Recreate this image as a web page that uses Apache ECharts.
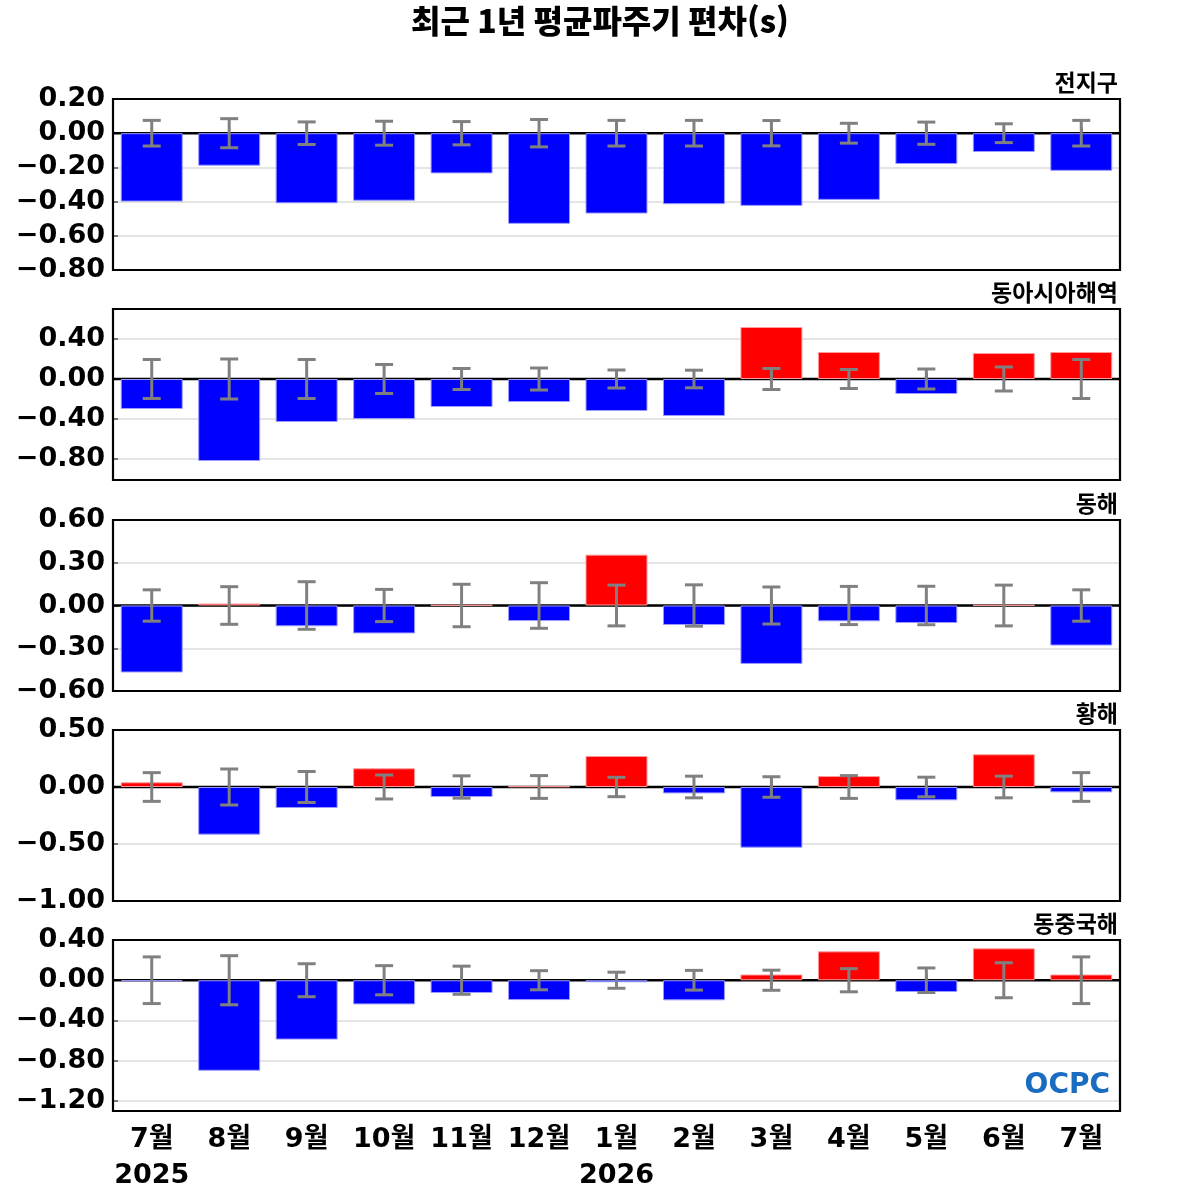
<!DOCTYPE html>
<html lang="ko">
<head>
<meta charset="UTF-8">
<title>최근 1년 평균파주기 편차(s)</title>
<script src="https://cdn.jsdelivr.net/npm/echarts@6/dist/echarts.min.js"></script>
<style>
  html, body { margin: 0; padding: 0; background: #fff; }
  #chart { width: 1200px; height: 1200px; }
</style>
</head>
<body>
<div id="chart"></div>
<script>
// 월 / 연도 라벨
var months = ['7월', '8월', '9월', '10월', '11월', '12월', '1월', '2월', '3월', '4월', '5월', '6월', '7월'];
var years = ['2025', '', '', '', '', '', '2026', '', '', '', '', '', ''];

// 해역별 편차 (s) 와 표준편차 (오차막대)
var globalAnom = [-0.40, -0.19, -0.41, -0.395, -0.235, -0.53, -0.47, -0.415, -0.425, -0.39, -0.18, -0.11, -0.22];
var globalStd = [0.075, 0.085, 0.066, 0.07, 0.068, 0.08, 0.075, 0.075, 0.074, 0.058, 0.065, 0.055, 0.075];

var eastAsiaAnom = [-0.30, -0.82, -0.43, -0.40, -0.28, -0.23, -0.32, -0.37, 0.52, 0.27, -0.15, 0.26, 0.27];
var eastAsiaStd = [0.195, 0.20, 0.195, 0.145, 0.105, 0.11, 0.09, 0.088, 0.105, 0.095, 0.10, 0.12, 0.195];

var eastSeaAnom = [-0.47, 0.014, -0.146, -0.196, 0.003, -0.109, 0.357, -0.137, -0.41, -0.111, -0.123, 0.003, -0.281];
var eastSeaStd = [0.11, 0.132, 0.167, 0.113, 0.149, 0.16, 0.143, 0.145, 0.13, 0.134, 0.135, 0.143, 0.11];

var yellowSeaAnom = [0.041, -0.418, -0.184, 0.164, -0.088, 0.006, 0.272, -0.056, -0.532, 0.096, -0.117, 0.287, -0.047];
var yellowSeaStd = [0.126, 0.158, 0.136, 0.105, 0.098, 0.10, 0.085, 0.095, 0.09, 0.10, 0.086, 0.095, 0.126];

var ecsAnom = [-0.01, -0.90, -0.59, -0.24, -0.127, -0.197, -0.02, -0.20, 0.057, 0.287, -0.117, 0.317, 0.057];
var ecsStd = [0.232, 0.244, 0.164, 0.145, 0.14, 0.095, 0.08, 0.098, 0.10, 0.115, 0.122, 0.174, 0.232];

// y축 눈금
var globalTicks = [-0.8, -0.6, -0.4, -0.2, 0, 0.2];
var eastAsiaTicks = [-0.8, -0.4, 0, 0.4];
var eastSeaTicks = [-0.6, -0.3, 0, 0.3, 0.6];
var yellowSeaTicks = [-1.0, -0.5, 0, 0.5];
var ecsTicks = [-1.2, -0.8, -0.4, 0, 0.4];

var panels = [
  { name: '전지구', anom: globalAnom, std: globalStd, ticks: globalTicks, min: -0.8, max: 0.2 },
  { name: '동아시아해역', anom: eastAsiaAnom, std: eastAsiaStd, ticks: eastAsiaTicks, min: -1.01, max: 0.70 },
  { name: '동해', anom: eastSeaAnom, std: eastSeaStd, ticks: eastSeaTicks, min: -0.6, max: 0.6 },
  { name: '황해', anom: yellowSeaAnom, std: yellowSeaStd, ticks: yellowSeaTicks, min: -1.0, max: 0.5 },
  { name: '동중국해', anom: ecsAnom, std: ecsStd, ticks: ecsTicks, min: -1.3, max: 0.4 }
];

var tops = [99, 309, 520, 730, 940];
var panelH = 171;
var FONT = "'DejaVu Sans', 'Noto Sans CJK KR', sans-serif";
var KFONT = "'Noto Sans CJK KR', sans-serif";

function fmt(v) {
  var s = Math.abs(v).toFixed(2);
  return (v < -1e-9 ? '\u2212' : '') + s;
}

var grids = [], xAxes = [], yAxes = [], series = [], titles = [];

titles.push({
  text: '최근 1년 평균파주기 편차(s)',
  left: 'center', top: 0,
  textStyle: { fontFamily: KFONT, fontSize: 32, fontWeight: 900, color: '#000' }
});

panels.forEach(function (p, k) {
  var last = k === panels.length - 1;
  grids.push({
    left: 113, right: 80, top: tops[k], height: panelH
  });
  titles.push({
    text: p.name, right: 77, top: tops[k] - 33,
    textStyle: { fontFamily: KFONT, fontSize: 23, fontWeight: 'bold', color: '#000' }
  });
  xAxes.push({
    type: 'category', gridIndex: k, data: months,
    axisLine: { show: false },
    axisTick: { show: true, inside: true, alignWithLabel: true, length: 6, lineStyle: { color: '#555', width: 1.5 } },
    axisLabel: {
      show: last, margin: 11, interval: 0,
      fontFamily: FONT, fontSize: 27, fontWeight: 'bold', color: '#000', lineHeight: 36,
      formatter: function (v, i) { return years[i] ? v + '\n' + years[i] : v; }
    },
    splitLine: { show: false }
  });
  yAxes.push({
    type: 'value', gridIndex: k, min: p.min, max: p.max,
    axisLine: { show: false },
    axisTick: { show: true, inside: true, length: 5, customValues: p.ticks, lineStyle: { color: '#555', width: 1.5 } },
    axisLabel: {
      customValues: p.ticks, margin: 8,
      fontFamily: FONT, fontSize: 27, fontWeight: 'bold', color: '#000',
      formatter: fmt
    },
    splitLine: { show: true, lineStyle: { color: '#dddddd', width: 1.5 } }
  });

  // 기준선 (0)
  series.push({
    type: 'custom', xAxisIndex: k, yAxisIndex: k, z: 1, silent: true,
    data: [[0, 0]],
    renderItem: function (params, api) {
      var cs = params.coordSys;
      var y = api.coord([0, 0])[1];
      return { type: 'line', shape: { x1: cs.x, y1: y, x2: cs.x + cs.width, y2: y }, style: { stroke: '#000', lineWidth: 2.5 } };
    }
  });

  series.push({
    type: 'bar', xAxisIndex: k, yAxisIndex: k, z: 2,
    barWidth: '80%',
    data: p.anom.map(function (v) {
      return {
        value: v,
        itemStyle: v > 0
          ? { color: '#ff0000', borderColor: '#ff9a9a', borderWidth: 1 }
          : { color: '#0000ff', borderColor: '#9a9aff', borderWidth: 1 }
      };
    })
  });

  // 오차막대
  series.push({
    type: 'custom', xAxisIndex: k, yAxisIndex: k, z: 3, silent: true,
    data: p.std.map(function (s, i) { return [i, s]; }),
    renderItem: function (params, api) {
      var x = api.value(0), h = api.value(1);
      var a = api.coord([x, h]);
      var b = api.coord([x, -h]);
      var cap = 9;
      var st = { stroke: '#808080', lineWidth: 3 };
      return {
        type: 'group', children: [
          { type: 'line', shape: { x1: a[0], y1: a[1], x2: b[0], y2: b[1] }, style: st },
          { type: 'line', shape: { x1: a[0] - cap, y1: a[1], x2: a[0] + cap, y2: a[1] }, style: st },
          { type: 'line', shape: { x1: b[0] - cap, y1: b[1], x2: b[0] + cap, y2: b[1] }, style: st }
        ]
      };
    }
  });

  // 테두리
  series.push({
    type: 'custom', xAxisIndex: k, yAxisIndex: k, z: 5, silent: true,
    data: [[0, 0]],
    renderItem: function (params, api) {
      var cs = params.coordSys;
      return { type: 'rect', shape: { x: cs.x, y: cs.y, width: cs.width, height: cs.height }, style: { fill: null, stroke: '#000', lineWidth: 2.2 } };
    }
  });
});

var chart = echarts.init(document.getElementById('chart'));
chart.setOption({
  backgroundColor: '#fff',
  animation: false,
  title: titles,
  grid: grids,
  xAxis: xAxes,
  yAxis: yAxes,
  series: series,
  graphic: [{
    type: 'text', right: 90, top: 1072, z: 10,
    style: {
      text: 'OCPC', font: "bold 28px 'DejaVu Sans'",
      fill: '#1a6cc0'
    }
  }]
});
</script>
</body>
</html>
